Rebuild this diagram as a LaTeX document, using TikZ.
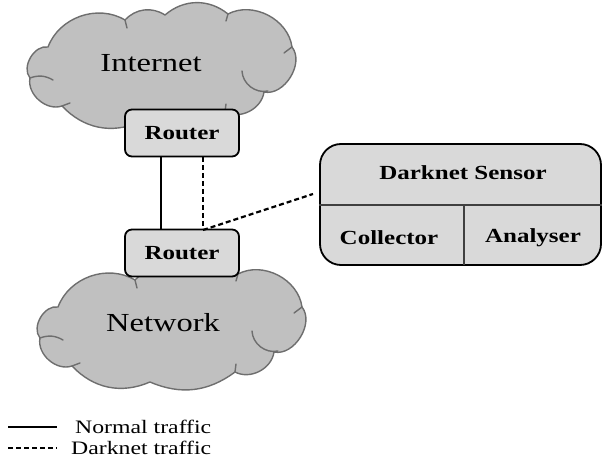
\documentclass[tikz,border=0pt]{standalone}
\usepackage{fontspec}
\setmainfont{Liberation Serif}[FakeStretch=1.25]
\definecolor{cloudgray}{HTML}{C0C0C0}
\definecolor{cloudedge}{HTML}{6E6E6E}
\definecolor{boxgray}{HTML}{D9D9D9}
\tikzset{
  cloudfill/.style={fill=cloudgray, draw=cloudedge, line width=1.4pt, line join=round},
  cloudline/.style={draw=cloudedge, line width=1.4pt, line cap=round},
  pics/netcloud/.style={code={
    \path[cloudfill] (27,44) to[bend right=70] (9,75) to[bend right=60] (41,103)
      to[bend right=35] (119,119) to[bend right=30] (204,109) to[bend right=55] (243,89)
      to[bend right=70] (271,44) to[bend right=55] (207,11) to[bend right=40] (144,12)
      to[bend right=40] (104,17) to[bend right=50] cycle;
    \draw[cloudline] (9,75) to[bend left=25] (32,77);
    \draw[cloudline] (221,68) to[bend right=50] (247,88);
    \draw[cloudline] (104,17) -- (106,25);
    \draw[cloudline] (207,11) -- (205,18);
    \draw[cloudline] (271,44) -- (263,50);
    \draw[cloudline] (204,109) -- (205,101);
    \draw[cloudline] (41,103) -- (49,100);
  }},
  cloudtext/.style={font=\fontsize{26}{30}\selectfont},
  routerbox/.style={draw=black, fill=boxgray, line width=1.8pt, rounded corners=7pt,
    minimum width=114pt, minimum height=47pt, inner sep=0pt,
    font=\fontsize{20}{23}\selectfont\bfseries},
  sensorbox/.style={draw=black, fill=boxgray, line width=1.8pt, rounded corners=21pt,
    minimum width=281pt, minimum height=121pt, inner sep=0pt},
  celltext/.style={font=\fontsize{20}{23}\selectfont\bfseries, inner sep=0pt},
  divider/.style={draw=black!75, line width=1.1pt},
  normal/.style={draw=black, line width=2.2pt},
  darknet/.style={draw=black, line width=2.2pt, dash pattern=on 5pt off 3pt},
  legendtext/.style={font=\fontsize{19}{22}\selectfont, anchor=west, inner sep=0pt}
}
\begin{document}
\begin{tikzpicture}[x=1pt, y=-1pt]
  \useasboundingbox (0,0) rectangle (603,470);

  % clouds
  \pic at (21,3) {netcloud};
  \node[cloudtext] (inet) at (151,63) {Internet};
  \pic at (31,263) {netcloud};
  \node[cloudtext] (net) at (163,323) {Network};

  % links between routers
  \coordinate (r1s) at (161,157);
  \coordinate (r2s) at (161,230);
  \coordinate (r1d) at (203,157);
  \coordinate (r2d) at (203,230);
  \draw[normal] (r1s) -- (r2s);
  \draw[darknet] (r1d) -- (r2d);

  % routers
  \node[routerbox] (r1) at (182,133) {Router};
  \node[routerbox] (r2) at (182,253) {Router};

  % darknet sensor
  \node[sensorbox] (sensor) at (460.5,204.5) {};
  \draw[divider] (sensor.west |- 0,205) -- (sensor.east |- 0,205);
  \draw[divider] (464,205) -- (464,265);
  \node[celltext] (title) at (463,173) {Darknet Sensor};
  \node[celltext] (coll) at (389,238) {Collector};
  \node[celltext] (anal) at (533,238) {Analyser};

  \coordinate (tap) at (313,194);
  \draw[darknet] (r2d) -- (tap);

  % legend
  \coordinate (l1a) at (8,427);
  \coordinate (l1b) at (57,427);
  \coordinate (l2a) at (8,448);
  \coordinate (l2b) at (57,448);
  \draw[normal] (l1a) -- (l1b);
  \draw[darknet] (l2a) -- (l2b);
  \node[legendtext] (lg1) at (75,427) {Normal traffic};
  \node[legendtext] (lg2) at (71,448) {Darknet traffic};
\end{tikzpicture}
\end{document}
